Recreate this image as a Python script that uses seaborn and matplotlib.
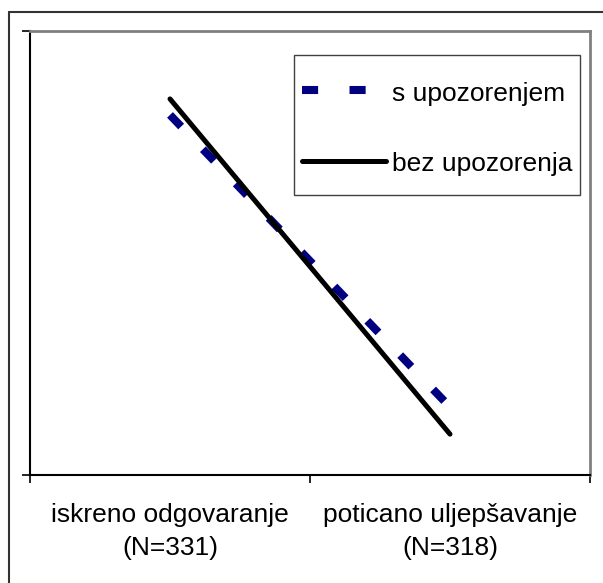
import matplotlib.pyplot as plt
import pandas as pd
import seaborn as sns
from matplotlib.lines import Line2D
from matplotlib.patches import Rectangle

# categories on the x axis
kategorije = ["iskreno odgovaranje\n(N=331)", "poticano uljepšavanje\n(N=318)"]
# series (relative position on the unlabelled y axis)
s_upozorenjem = [0.811, 0.153]
bez_upozorenja = [0.847, 0.092]

df_s = pd.DataFrame({"kategorija": kategorije, "vrijednost": s_upozorenjem})
df_bez = pd.DataFrame({"kategorija": kategorije, "vrijednost": bez_upozorenja})

sns.set_theme(style="white")
plt.rcParams["font.family"] = ["Liberation Sans", "DejaVu Sans"]
plt.rcParams["text.color"] = "black"

W, H = 603, 583
fig = plt.figure(figsize=(W / 100, H / 100), dpi=100)
ax = fig.add_axes([30 / W, 108 / H, 560 / W, 444 / H])

sns.lineplot(data=df_s, x="kategorija", y="vrijednost", ax=ax, color="#000080",
             linewidth=5.8, linestyle=(0, (2.0, 3.9)), label="s upozorenjem")
sns.lineplot(data=df_bez, x="kategorija", y="vrijednost", ax=ax, color="black",
             linewidth=3.6, solid_capstyle="round", label="bez upozorenja")

ax.set_xlim(-0.5, 1.5)
ax.set_ylim(0, 1)
ax.set_xlabel("")
ax.set_ylabel("")

# tick marks between categories, labels centred on categories
ax.set_xticks([-0.5, 0.5, 1.5], labels=["", "", ""])
ax.set_xticks([0, 1], labels=kategorije, minor=True)
ax.tick_params(axis="x", which="major", direction="out", length=5.8, width=1.2,
               color="black", bottom=True)
ax.tick_params(axis="x", which="minor", length=0, pad=20, labelsize=19,
               labelcolor="black", bottom=True)
for lab in ax.get_xticklabels(minor=True):
    lab.set_linespacing(1.5)
ax.set_yticks([0, 1], labels=["", ""])
ax.tick_params(axis="y", direction="out", length=5.8, width=1.2, color="black", left=True)

ax.spines["left"].set_color("black")
ax.spines["bottom"].set_color("black")
ax.spines["left"].set_linewidth(1.5)
ax.spines["bottom"].set_linewidth(1.5)
ax.spines["top"].set_color("#808080")
ax.spines["right"].set_color("#808080")
ax.spines["top"].set_linewidth(2.0)
ax.spines["right"].set_linewidth(2.0)

# legend content without frame; frame drawn separately
leg = ax.legend(loc="upper left", bbox_to_anchor=(302 / W, 1 - 80 / H),
                bbox_transform=fig.transFigure, borderaxespad=0, fontsize=19,
                handlelength=3.18, handletextpad=0.22, handleheight=1.0,
                labelspacing=1.68, borderpad=0, frameon=False)
fig.add_artist(Rectangle((293.5 / W, 1 - 195 / H), 286 / W, 140 / H,
                         transform=fig.transFigure, facecolor="none",
                         edgecolor="#404040", linewidth=1.0, zorder=3))

# outer chart frame (only left and top edges visible in the crop)
fig.add_artist(Line2D([8.5 / W, 8.5 / W], [-0.01, 1 - 11.5 / H],
                      transform=fig.transFigure, color="#333333", linewidth=1.5))
fig.add_artist(Line2D([8.5 / W, 1.01], [1 - 11.5 / H, 1 - 11.5 / H],
                      transform=fig.transFigure, color="#333333", linewidth=1.5))

fig.savefig("out.png", dpi=100)
plt.close(fig)
